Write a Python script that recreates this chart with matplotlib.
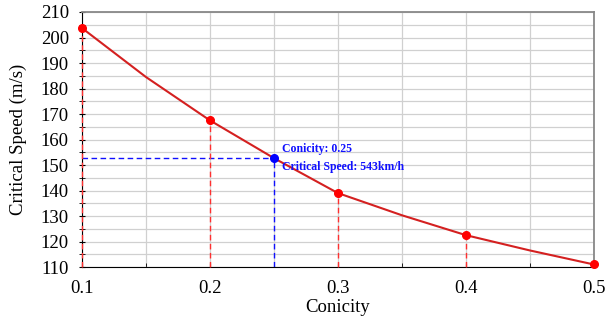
import numpy as np
import matplotlib.pyplot as plt

plt.rcParams['font.family'] = ['Liberation Serif', 'DejaVu Serif']

# data
conicity = [0.1, 0.15, 0.2, 0.25, 0.3, 0.35, 0.4, 0.45, 0.5]
speed = [203.7, 184.5, 167.5, 152.7, 139.0, 130.3, 122.5, 116.5, 111.0]
mark_x = [0.1, 0.2, 0.3, 0.4, 0.5]
mark_y = [203.7, 167.5, 139.0, 122.5, 111.0]
sel_x = 0.25
sel_y = 152.7

fig = plt.figure(figsize=(6.09, 3.2), dpi=100)
ax = fig.add_axes([0.1346, 0.1656, 0.975 - 0.1346, 0.9625 - 0.1656])

ax.set_xlim(0.1, 0.5)
ax.set_ylim(110, 210)
ax.set_xticks([0.1, 0.2, 0.3, 0.4, 0.5])
ax.set_xticks([0.15, 0.25, 0.35, 0.45], minor=True)
ax.set_yticks(np.arange(110, 211, 10))
ax.set_yticks(np.arange(115, 210, 10), minor=True)
ax.grid(True, which='both', color='#d0d0d0', lw=0.9)
ax.set_axisbelow(True)
ax.tick_params(which='both', direction='inout', length=5, labelsize=13.5)
ax.tick_params(axis='x', which='both', direction='in', length=3)
ax.tick_params(axis='x', pad=9)
ax.tick_params(axis='y', pad=7)
for s in ['top', 'right']:
    ax.spines[s].set_color('#888888')
    ax.spines[s].set_linewidth(1.3)

# red guide lines down to the axis
for x, y in zip(mark_x[:-1], mark_y[:-1]):
    ax.plot([x, x], [110, y], color='#ff3030', ls='--', lw=1, dashes=(4, 2.5),
            clip_on=False, zorder=2.7)

# blue guide lines for the selected point
ax.plot([0.1, sel_x], [sel_y, sel_y], color='#1010ff', ls='--', lw=1, dashes=(4, 2.5))
ax.plot([sel_x, sel_x], [110, sel_y], color='#1010ff', ls='--', lw=1, dashes=(4, 2.5))

ax.plot(conicity, speed, color='#d42020', lw=1.5, zorder=3)
ax.plot(mark_x, mark_y, 'o', color='#ff0000', ms=5.5, zorder=4, clip_on=False)
ax.plot([sel_x], [sel_y], 'o', color='#0000ff', ms=5.5, zorder=4)

ax.text(sel_x + 0.006, sel_y + 1.2, 'Conicity: 0.25', color='#1010ff',
        fontsize=8.5, fontweight='bold', va='bottom')
ax.text(sel_x + 0.006, sel_y - 1.2, 'Critical Speed: 543km/h', color='#1010ff',
        fontsize=8.5, fontweight='bold', va='top')

ax.set_xlabel('Conicity', fontsize=13.5, labelpad=2)
ax.set_ylabel('Critical Speed (m/s)', fontsize=13.5, labelpad=10)

fig.savefig('out.png', dpi=100)
